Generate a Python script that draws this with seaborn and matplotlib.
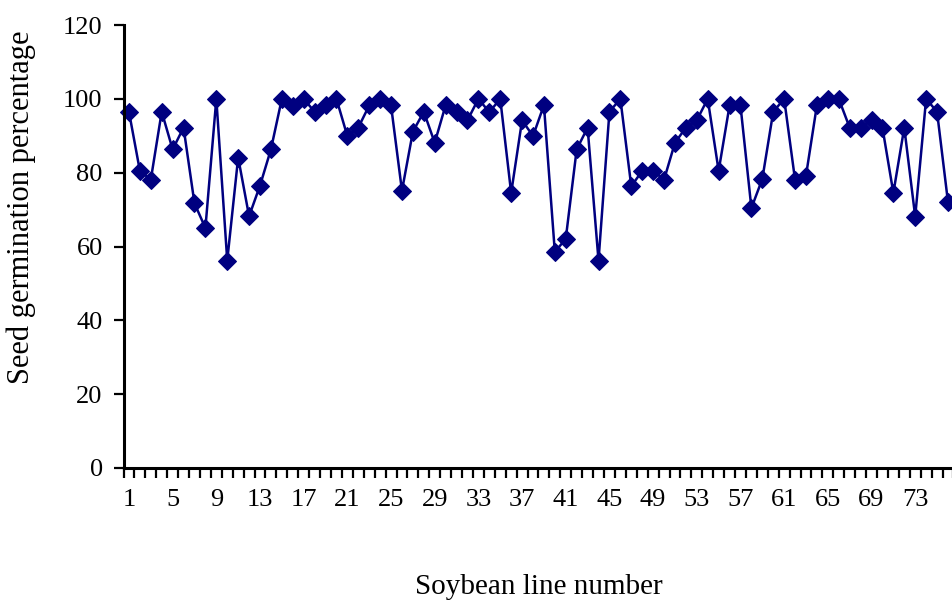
import numpy as np
import pandas as pd
import matplotlib
matplotlib.use("Agg")
import matplotlib.pyplot as plt
import seaborn as sb

# Pourcentage de germination par lignée
lines = list(range(1, 77))
germination = [96.5, 80.5, 78.1, 96.5, 86.3, 92.2, 71.7, 65.0, 100, 56.2,
               84.1, 68.2, 76.5, 86.3, 100, 98.0, 100, 96.5, 98.2, 100,
               89.9, 92.2, 98.2, 100, 98.2, 75.1, 91.1, 96.5, 88.1, 98.3,
               96.5, 94.2, 100, 96.4, 100, 74.5, 94.2, 89.9, 98.3, 58.5,
               62.1, 86.3, 92.2, 56.2, 96.5, 100, 76.3, 80.5, 80.5, 78.1,
               88.1, 92.2, 94.2, 100, 80.5, 98.2, 98.2, 70.4, 78.3, 96.5,
               100, 78.0, 79.2, 98.3, 100, 100, 92.2, 92.2, 94.2, 92.2,
               74.5, 92.2, 68.1, 100, 96.5, 72.1]
yticks = [0, 20, 40, 60, 80, 100, 120]
xlabels = list(range(1, 77, 4))

df = pd.DataFrame({"line": lines, "germ": germination})

sb.set_style("white")
plt.rcParams['font.family'] = ['Liberation Serif', 'DejaVu Serif']
plt.rcParams['text.color'] = 'black'
plt.rcParams['axes.labelcolor'] = 'black'
plt.rcParams['xtick.color'] = 'black'
plt.rcParams['ytick.color'] = 'black'

fig = plt.figure(figsize=(9.52, 6.08), dpi=100)
# axes qui dépassent à droite (figure coupée comme l'original)
ax = fig.add_axes([123.5 / 952, 140 / 608, 830 / 952, 443 / 608])

sb.lineplot(data=df, x="line", y="germ", ax=ax, color="#000080",
            marker="D", markersize=9.5, markeredgecolor="#000080",
            linewidth=1.8, clip_on=False)

ax.set_yticks(yticks)
ax.set_xticks(xlabels)
ax.set_xticks(np.arange(0.5, 80.5, 1.0), minor=True)
ax.set_xlim(0.5, 0.5 + 830 / 10.92)
ax.set_ylim(0, 120)
ax.tick_params(axis="x", which="major", length=0, pad=15, labelsize=19)
ax.tick_params(axis="x", which="minor", length=7, width=1.6,
               direction="out", bottom=True)
ax.tick_params(axis="y", which="major", length=7, width=1.6,
               direction="out", left=True, pad=8, labelsize=19)

for s in ["top", "right"]:
    ax.spines[s].set_visible(False)
for s in ["left", "bottom"]:
    ax.spines[s].set_color("black")
    ax.spines[s].set_linewidth(2.2)

ax.set_xlabel("Soybean line number", fontsize=21)
ax.set_ylabel("Seed germination percentage", fontsize=22)
ax.xaxis.set_label_coords(0.5, -106 / 443)
ax.yaxis.set_label_coords(-88 / 830, 261 / 443)

fig.savefig("out.png", dpi=100)
